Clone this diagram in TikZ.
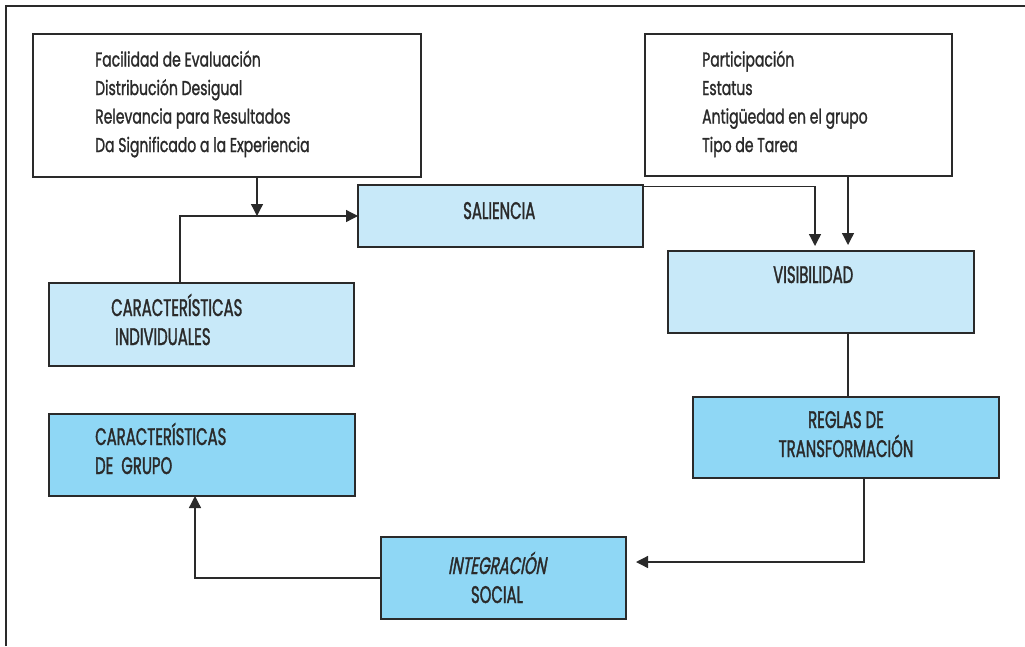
\documentclass[tikz,border=0pt]{standalone}
\usepackage{fontspec}
\setmainfont{Poppins}[FakeStretch=0.7,FakeBold=1.2]
\newfontfamily\capsfont{Poppins}[FakeStretch=0.62,FakeBold=1.4]
\newfontfamily\capsslfont{Poppins}[FakeStretch=0.62,FakeBold=1.4,FakeSlant=0.18]
\usetikzlibrary{arrows.meta}

\definecolor{paleblue}{HTML}{C8E9F9}
\definecolor{skyblue}{HTML}{8FD7F5}
\definecolor{ink}{HTML}{2A2A2A}

\tikzset{
  box/.style={draw=ink, line width=1.4pt, inner sep=0pt, outer sep=0pt},
  whitebox/.style={box, fill=white},
  palebox/.style={box, fill=paleblue},
  skybox/.style={box, fill=skyblue},
  listtext/.style={font=\fontsize{20}{28.5}\selectfont, align=left, anchor=base west, inner sep=0pt, text=ink},
  captext/.style={font=\capsfont\fontsize{24}{29}\selectfont, inner sep=0pt, text=ink},
  link/.style={draw=ink, line width=1.3pt},
  arrow/.style={link, -{Triangle[length=12pt,width=12pt]}},
}

\begin{document}
\begin{tikzpicture}[x=1pt,y=-1pt]
\useasboundingbox (0,0) rectangle (1025,646);

% outer frame (top and left rules only)
\draw[link, line width=1.2pt] (6,646) -- (6,6) -- (1025,6);

% boxes
\node[whitebox, minimum width=388pt, minimum height=143pt] (fa) at (227,105.5) {};
\node[whitebox, minimum width=307pt, minimum height=142pt] (fb) at (798.5,105) {};
\node[palebox, minimum width=285pt, minimum height=62pt] (sal) at (500.5,216) {};
\node[palebox, minimum width=306pt, minimum height=82pt] (vis) at (821,292) {};
\node[palebox, minimum width=305pt, minimum height=83pt] (ci) at (201.5,324.5) {};
\node[skybox, minimum width=306pt, minimum height=82pt] (cg) at (202,455) {};
\node[skybox, minimum width=306pt, minimum height=81pt] (rt) at (846,437.5) {};
\node[skybox, minimum width=245pt, minimum height=82pt] (is) at (503.5,578) {};

% texts (base anchors of multi-line nodes sit on the last line)
\node[listtext] (faT) at (95,152) {Facilidad de Evaluación\\Distribución Desigual\\Relevancia para Resultados\\Da Significado a la Experiencia};
\node[listtext] (fbT) at (702,152) {Participación\\Estatus\\Antigüedad en el grupo\\Tipo de Tarea};
\node[captext, anchor=base west] (salT) at (463,219) {SALIENCIA};
\node[captext, anchor=base west] (visT) at (773,283) {VISIBILIDAD};
\node[captext, anchor=base west, align=left] (ciT) at (111,345) {CARACTERÍSTICAS\\\hspace{4pt}INDIVIDUALES};
\node[captext, anchor=base west, align=left] (cgT) at (95,474) {CARACTERÍSTICAS\\DE\ \ GRUPO};
\node[captext, anchor=base, align=center] (rtT) at (846,457) {REGLAS DE\\TRANSFORMACIÓN};
\node[captext, anchor=base, align=center] (isT) at (497,603) {{\capsslfont INTEGRACIÓN}\\SOCIAL};

% connectors
\coordinate (merge) at ([xshift=30pt]fa.south |- sal.west);
\draw[arrow] ([xshift=30pt]fa.south) -- (merge);
\draw[arrow] ([xshift=-21.5pt]ci.north) |- (sal.west);
\draw[arrow] ([yshift=-1.5pt]sal.north east) -| ([xshift=-6pt,yshift=5pt]vis.north);
\draw[arrow] ([xshift=49.5pt]fb.south) -- ([xshift=27pt,yshift=6pt]vis.north);
\draw[link] ([xshift=27pt]vis.south) -- ([xshift=2pt]rt.north);
\draw[arrow] ([xshift=18pt]rt.south) |- ([xshift=10pt,yshift=16pt]is.east);
\draw[arrow] (is.west) -| ([xshift=-7pt]cg.south);
\end{tikzpicture}
\end{document}
